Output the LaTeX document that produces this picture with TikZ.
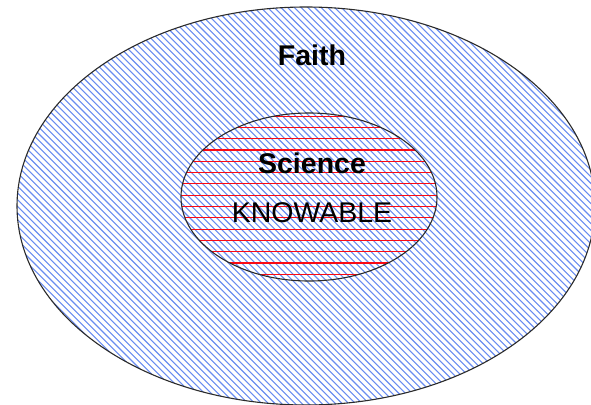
\documentclass[tikz,border=0pt]{standalone}
\usepackage{fontspec}
\setmainfont{Liberation Sans}
\usepackage{tikz}
\usetikzlibrary{shapes.geometric}
\definecolor{hatchblue}{RGB}{105,140,240}
\definecolor{hatchred}{RGB}{250,10,20}
\definecolor{outline}{HTML}{2B2B2B}

\begin{document}
\begin{tikzpicture}[
    x=1pt, y=-1pt,
    region/.style 2 args={draw=outline, ellipse, line width=1.1pt, inner sep=0pt, minimum width=#1, minimum height=#2},
    bluehatch/.style={hatchblue, line width=1.1pt},
    redhatch/.style={hatchred, line width=1.1pt},
    settext/.style={anchor=base, font=\fontsize{28.5}{30}\selectfont#1},
]
    \useasboundingbox (0,0) rectangle (591,404);

    % Hatching of the two sets
    \begin{scope}
        \clip (306,206) ellipse [x radius=289pt, y radius=199pt];
        \foreach \a in {-430,-423.3,...,600}
            \draw[bluehatch] (\a,0) -- ++(430,430);
    \end{scope}
    \begin{scope}
        \clip (309,197) ellipse [x radius=128pt, y radius=84pt];
        \foreach \k in {-4,...,12}
            \draw[redhatch] (170,150+11.3*\k) -- (450,150+11.3*\k);
    \end{scope}

    \node[region={578pt}{398pt}] (faith) at (306,206) {};
    \node[region={256pt}{168pt}] (science) at (309,197) {};

    % Texts
    \node[settext=\bfseries] (faithname) at (312,65) {Faith};
    \node[settext=\bfseries] (sciencename) at (312,173) {Science};
    \node[settext=] (knowable) at (312,222) {KNOWABLE};
\end{tikzpicture}
\end{document}
